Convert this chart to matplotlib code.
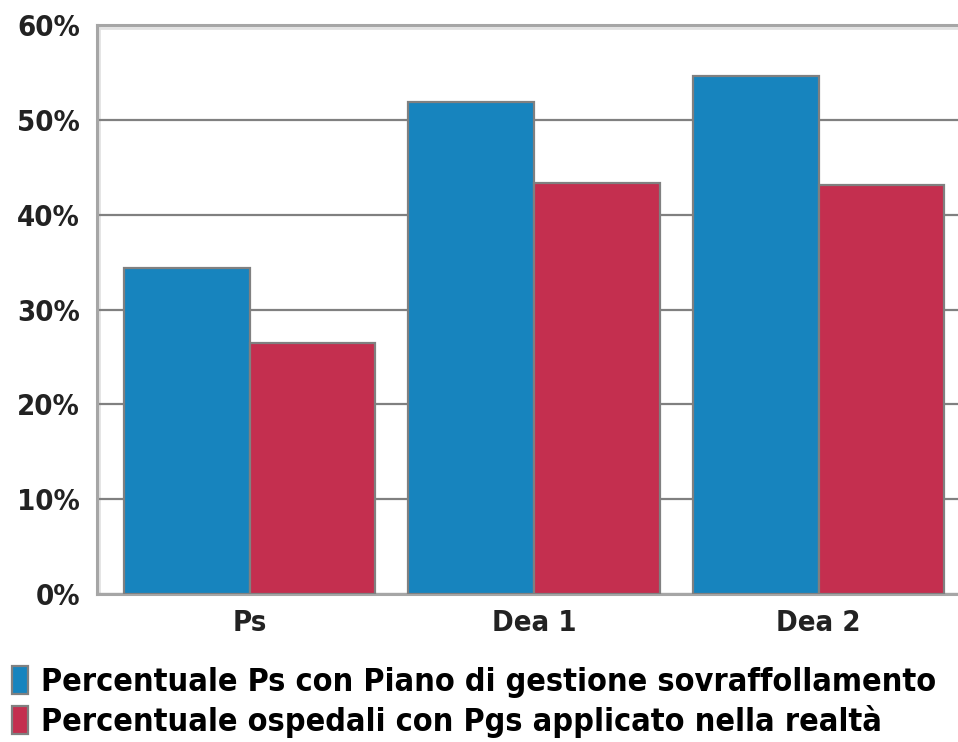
import matplotlib.pyplot as plt
import numpy as np
from matplotlib import font_manager
from matplotlib.font_manager import FontProperties

# look for a narrow bold face, else fall back to DejaVu Sans bold
narrow = None
for f in font_manager.fontManager.ttflist:
    n = f.fname.lower()
    if ("narrow" in n or "condensed" in n) and ("bold" in n) and "oblique" not in n and "italic" not in n:
        narrow = f.fname
        break

categories = ["Ps", "Dea 1", "Dea 2"]
piano = [34.4, 51.9, 54.6]
applicato = [26.5, 43.4, 43.1]
labels = ["Percentuale Ps con Piano di gestione sovraffollamento",
          "Percentuale ospedali con Pgs applicato nella realtà"]
blue = "#1784be"
red = "#c42f4f"
edge = "#808080"

if narrow:
    tick_fp = FontProperties(fname=narrow, size=21)
    leg_fp = FontProperties(fname=narrow, size=23.2)
else:
    tick_fp = FontProperties(family="DejaVu Sans", weight="bold", size=19)
    leg_fp = FontProperties(family="DejaVu Sans", weight="bold", size=19.8)

fig = plt.figure(figsize=(9.58, 7.42), dpi=100)
ax = fig.add_axes([0.101, 0.1995, 0.905, 0.7665])

x = np.arange(len(categories))
w = 0.442
b1 = ax.bar(x - w / 2, piano, w, color=blue, edgecolor=edge, linewidth=1.6, zorder=3, label=labels[0])
b2 = ax.bar(x + w / 2, applicato, w, color=red, edgecolor=edge, linewidth=1.6, zorder=3, label=labels[1])

ax.set_ylim(0, 60)
ax.set_xlim(-0.537, 2.51)
ax.set_yticks(range(0, 61, 10))
ax.set_yticklabels([f"{v}%" for v in range(0, 61, 10)], fontproperties=tick_fp, color="#222222")
ax.set_xticks(x)
ax.set_xticklabels(categories, fontproperties=tick_fp, color="#222222")
ax.tick_params(axis="y", length=0, pad=12)
ax.tick_params(axis="x", length=0, pad=11)
ax.yaxis.grid(True, color=edge, linewidth=1.6, zorder=0)

for s in ["left", "top", "bottom"]:
    ax.spines[s].set_color("#a6a6a6")
    ax.spines[s].set_linewidth(2.2)
ax.spines["right"].set_visible(False)
# light shadow lines along the frame
ax.axvline(-0.537 + 0.008, color="#e2e2e2", linewidth=2, zorder=1)
ax.axhline(60 - 0.25, color="#e2e2e2", linewidth=2, zorder=1)

fig.legend(handles=[b1, b2], labels=labels, loc="lower left", bbox_to_anchor=(0.006, -0.003),
           frameon=False, prop=leg_fp, handlelength=0.5, handleheight=0.95,
           handletextpad=0.4, labelspacing=0.22, borderpad=0.2, borderaxespad=0)

fig.savefig("out.png", dpi=100)
